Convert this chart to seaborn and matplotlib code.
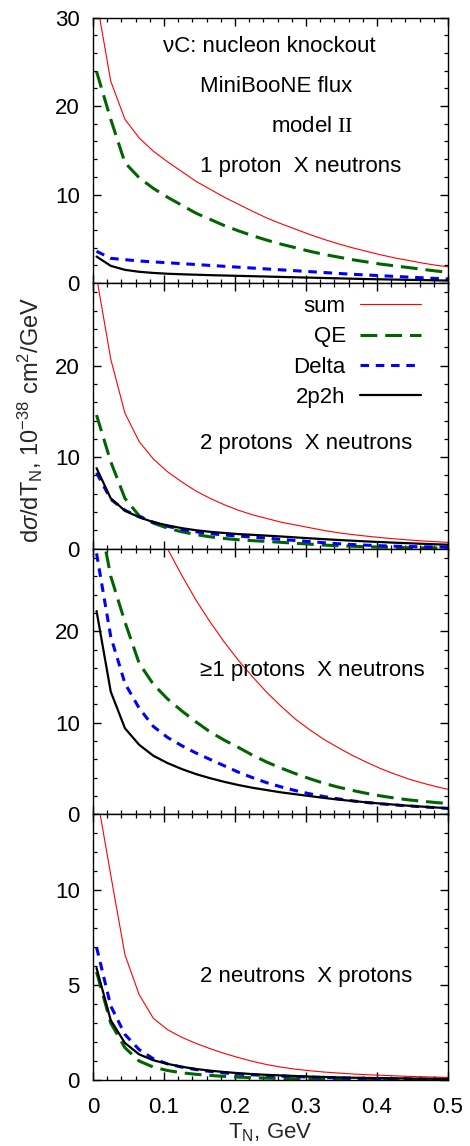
import numpy as np
import pandas as pd
import matplotlib
matplotlib.use("Agg")
import matplotlib.pyplot as plt
import seaborn as sns
from matplotlib.ticker import MultipleLocator, FixedLocator

# ---------------- data ----------------
T_N = [0.005, 0.025, 0.045, 0.065, 0.085, 0.105, 0.125, 0.145, 0.165, 0.185,
       0.205, 0.225, 0.245, 0.265, 0.285, 0.305, 0.325, 0.345, 0.365, 0.385,
       0.405, 0.425, 0.445, 0.465, 0.485, 0.505]

components = ["sum", "QE", "Delta", "2p2h"]

# panel 1: 1 proton X neutrons
p1_sum = [32.0, 22.8, 18.5, 16.4, 14.9, 13.7, 12.6, 11.5, 10.6, 9.7,
          8.9, 8.1, 7.35, 6.7, 6.1, 5.5, 4.95, 4.45, 4.0, 3.6,
          3.2, 2.85, 2.55, 2.25, 2.0, 1.8]
p1_qe = [23.9, 18.5, 13.6, 11.9, 10.7, 9.7, 8.8, 7.9, 7.2, 6.5,
         5.9, 5.35, 4.85, 4.4, 4.0, 3.6, 3.25, 2.95, 2.65, 2.4,
         2.15, 1.95, 1.75, 1.55, 1.35, 1.2]
p1_delta = [3.6, 2.8, 2.65, 2.5, 2.4, 2.3, 2.2, 2.1, 2.0, 1.9,
            1.8, 1.7, 1.6, 1.5, 1.4, 1.3, 1.2, 1.1, 1.0, 0.92,
            0.84, 0.76, 0.68, 0.6, 0.52, 0.45]
p1_2p2h = [3.0, 1.95, 1.5, 1.28, 1.15, 1.06, 1.0, 0.95, 0.9, 0.86,
           0.82, 0.78, 0.74, 0.7, 0.66, 0.62, 0.58, 0.54, 0.5, 0.46,
           0.43, 0.4, 0.37, 0.34, 0.31, 0.28]

# panel 2: 2 protons X neutrons
p2_sum = [29.7, 20.7, 14.8, 11.7, 9.8, 8.4, 7.3, 6.3, 5.5, 4.8,
          4.2, 3.7, 3.3, 2.9, 2.6, 2.3, 2.0, 1.75, 1.55, 1.38,
          1.22, 1.08, 0.96, 0.85, 0.76, 0.68]
p2_qe = [14.6, 9.5, 5.5, 3.6, 2.8, 2.25, 1.85, 1.55, 1.3, 1.12,
         0.98, 0.88, 0.8, 0.7, 0.6, 0.5, 0.4, 0.33, 0.27, 0.22,
         0.18, 0.14, 0.12, 0.1, 0.08, 0.07]
p2_delta = [8.3, 5.4, 4.2, 3.5, 2.9, 2.45, 2.1, 1.85, 1.65, 1.5,
            1.38, 1.27, 1.16, 1.02, 0.9, 0.78, 0.66, 0.55, 0.46, 0.39,
            0.33, 0.28, 0.24, 0.21, 0.19, 0.17]
p2_2p2h = [8.8, 5.5, 4.15, 3.45, 2.9, 2.55, 2.25, 2.02, 1.85, 1.72,
           1.6, 1.52, 1.43, 1.34, 1.24, 1.14, 1.05, 0.96, 0.88, 0.8,
           0.73, 0.66, 0.6, 0.54, 0.48, 0.43]

# panel 3: >=1 protons X neutrons
p3_sum = [60.0, 48.0, 40.0, 35.0, 31.7, 29.0, 26.1, 23.4, 21.0, 18.8,
          16.8, 15.0, 13.3, 11.8, 10.4, 9.25, 8.2, 7.3, 6.45, 5.7,
          5.0, 4.4, 3.85, 3.4, 3.0, 2.65]
p3_qe = [34.0, 26.0, 21.0, 16.5, 14.2, 12.6, 11.3, 10.1, 9.0, 8.1,
         7.3, 6.45, 5.7, 5.05, 4.45, 3.9, 3.4, 2.98, 2.62, 2.3,
         2.02, 1.78, 1.58, 1.42, 1.28, 1.15]
p3_delta = [28.5, 19.4, 14.3, 11.6, 9.6, 8.4, 7.5, 6.7, 6.0, 5.3,
            4.6, 4.0, 3.45, 3.0, 2.6, 2.25, 1.95, 1.7, 1.48, 1.3,
            1.15, 1.03, 0.92, 0.82, 0.72, 0.63]
p3_2p2h = [22.2, 13.4, 9.4, 7.6, 6.4, 5.6, 4.95, 4.4, 3.95, 3.55,
           3.2, 2.9, 2.65, 2.4, 2.2, 2.0, 1.8, 1.62, 1.46, 1.32,
           1.18, 1.06, 0.94, 0.84, 0.74, 0.65]

# panel 4: 2 neutrons X protons
p4_sum = [15.1, 10.8, 6.6, 4.5, 3.25, 2.65, 2.25, 1.93, 1.65, 1.4,
          1.18, 0.98, 0.81, 0.68, 0.57, 0.49, 0.42, 0.37, 0.32, 0.28,
          0.25, 0.22, 0.19, 0.17, 0.15, 0.13]
p4_qe = [5.7, 3.0, 1.7, 1.0, 0.68, 0.5, 0.38, 0.3, 0.24, 0.19,
         0.15, 0.12, 0.1, 0.08, 0.07, 0.06, 0.05, 0.04, 0.03, 0.03,
         0.02, 0.02, 0.02, 0.01, 0.01, 0.01]
p4_delta = [7.0, 3.9, 2.4, 1.6, 1.12, 0.85, 0.68, 0.55, 0.45, 0.37,
            0.31, 0.27, 0.24, 0.21, 0.18, 0.15, 0.13, 0.11, 0.09, 0.08,
            0.07, 0.06, 0.05, 0.04, 0.04, 0.03]
p4_2p2h = [5.9, 3.15, 1.95, 1.35, 1.04, 0.85, 0.7, 0.58, 0.49, 0.42,
           0.36, 0.31, 0.27, 0.24, 0.21, 0.18, 0.16, 0.14, 0.12, 0.11,
           0.1, 0.09, 0.08, 0.07, 0.06, 0.05]

panel_titles = ["1 proton  X neutrons", "2 protons  X neutrons",
                "\u22651 protons  X neutrons", "2 neutrons  X protons"]
y_limits = [30, 29, 29, 14]
y_major = [10, 10, 10, 5]
y_minor = [2, 2, 2, 1]
x_ticks = [0, 0.1, 0.2, 0.3, 0.4, 0.5]
x_ticklabels = ["0", "0.1", "0.2", "0.3", "0.4", "0.5"]

panels = [
    (p1_sum, p1_qe, p1_delta, p1_2p2h),
    (p2_sum, p2_qe, p2_delta, p2_2p2h),
    (p3_sum, p3_qe, p3_delta, p3_2p2h),
    (p4_sum, p4_qe, p4_delta, p4_2p2h),
]

# ---------------- style ----------------
sns.set_style("ticks")
FS = 16
plt.rcParams.update({
    "font.family": ["Liberation Sans", "DejaVu Sans"],
    "font.size": FS,
    "mathtext.fontset": "custom",
    "mathtext.rm": "Liberation Serif",
    "mathtext.sf": "Liberation Sans",
    "mathtext.it": "Liberation Sans:italic",
    "xtick.direction": "in",
    "ytick.direction": "in",
    "xtick.top": True,
    "ytick.right": True,
    "axes.linewidth": 1.0,
    "axes.edgecolor": "black",
    "xtick.color": "black",
    "ytick.color": "black",
    "text.color": "black",
})

palette = {"sum": "#ff0000", "QE": "#006400", "Delta": "#0000ff", "2p2h": "#000000"}
sizes = {"sum": 0.8, "QE": 2.2, "Delta": 2.2, "2p2h": 1.6}
dashes = {"sum": "", "QE": (5.5, 2.6), "Delta": (2.8, 2.2), "2p2h": ""}

fig, axes = plt.subplots(4, 1, figsize=(4.70, 11.46), dpi=100, sharex=True,
                         gridspec_kw=dict(hspace=0))
fig.subplots_adjust(left=93 / 470, right=448 / 470,
                    top=1 - 17.5 / 1146, bottom=1 - 1080 / 1146)

for i, (ax, series) in enumerate(zip(axes, panels)):
    rows = []
    for name, vals in zip(components, series):
        for x, v in zip(T_N, vals):
            rows.append({"T": x, "val": v, "comp": name})
    df = pd.DataFrame(rows)
    sns.lineplot(data=df, x="T", y="val", hue="comp", style="comp", size="comp",
                 hue_order=components, style_order=components, size_order=components,
                 palette=palette, sizes=sizes, dashes=dashes,
                 errorbar=None, legend=False, ax=ax)
    ax.set_xlim(0, 0.5)
    ax.set_ylim(0, y_limits[i])
    ax.yaxis.set_major_locator(MultipleLocator(y_major[i]))
    ax.yaxis.set_minor_locator(MultipleLocator(y_minor[i]))
    ax.xaxis.set_major_locator(FixedLocator(x_ticks))
    ax.xaxis.set_minor_locator(MultipleLocator(0.02))
    ax.tick_params(which="major", length=5.5, width=1.0, labelsize=FS)
    ax.tick_params(axis="y", which="major", pad=9.5)
    ax.tick_params(axis="x", which="major", pad=12)
    ax.tick_params(which="minor", length=3.0, width=0.9)
    ax.tick_params(axis="both", which="both", top=True, right=True)
    ax.set_xlabel("")
    ax.set_ylabel("")
    for s in ax.spines.values():
        s.set_visible(True)
        s.set_linewidth(1.0)

axes[-1].set_xticklabels(x_ticklabels)

# annotations
axes[0].text(0.0986, 26.07, "\u03bdC: nucleon knockout", ha="left", va="baseline", fontsize=FS)
axes[0].text(0.1507, 21.6, "MiniBooNE flux", ha="left", va="baseline", fontsize=FS)
axes[0].text(0.2507, 17.1, r"model $\mathrm{II}$", ha="left", va="baseline", fontsize=FS)
title_y = [12.6, 10.84, 15.08, 5.19]
for ax, t, y in zip(axes, panel_titles, title_y):
    ax.text(0.1507, y, t, ha="left", va="baseline", fontsize=FS)

# legend (panel 2)
leg_handles = axes[1].get_lines()[:4]
axes[1].legend(leg_handles, components, loc="upper right",
               bbox_to_anchor=(0.923, 0.951), frameon=False, markerfirst=False,
               handlelength=2.73, handletextpad=0.64, labelspacing=0.42,
               borderpad=0, borderaxespad=0, fontsize=FS)

axes[1].set_ylabel(r"d$\sigma$/dT$_\mathsf{N}$, 10$^\mathsf{-38}$ cm$^\mathsf{2}$/GeV",
                   fontsize=17)
axes[1].yaxis.set_label_coords(-0.135, 0.485)
axes[-1].set_xlabel(r"T$_\mathsf{N}$, GeV", fontsize=FS, labelpad=3)

fig.savefig("out.png", dpi=100)
